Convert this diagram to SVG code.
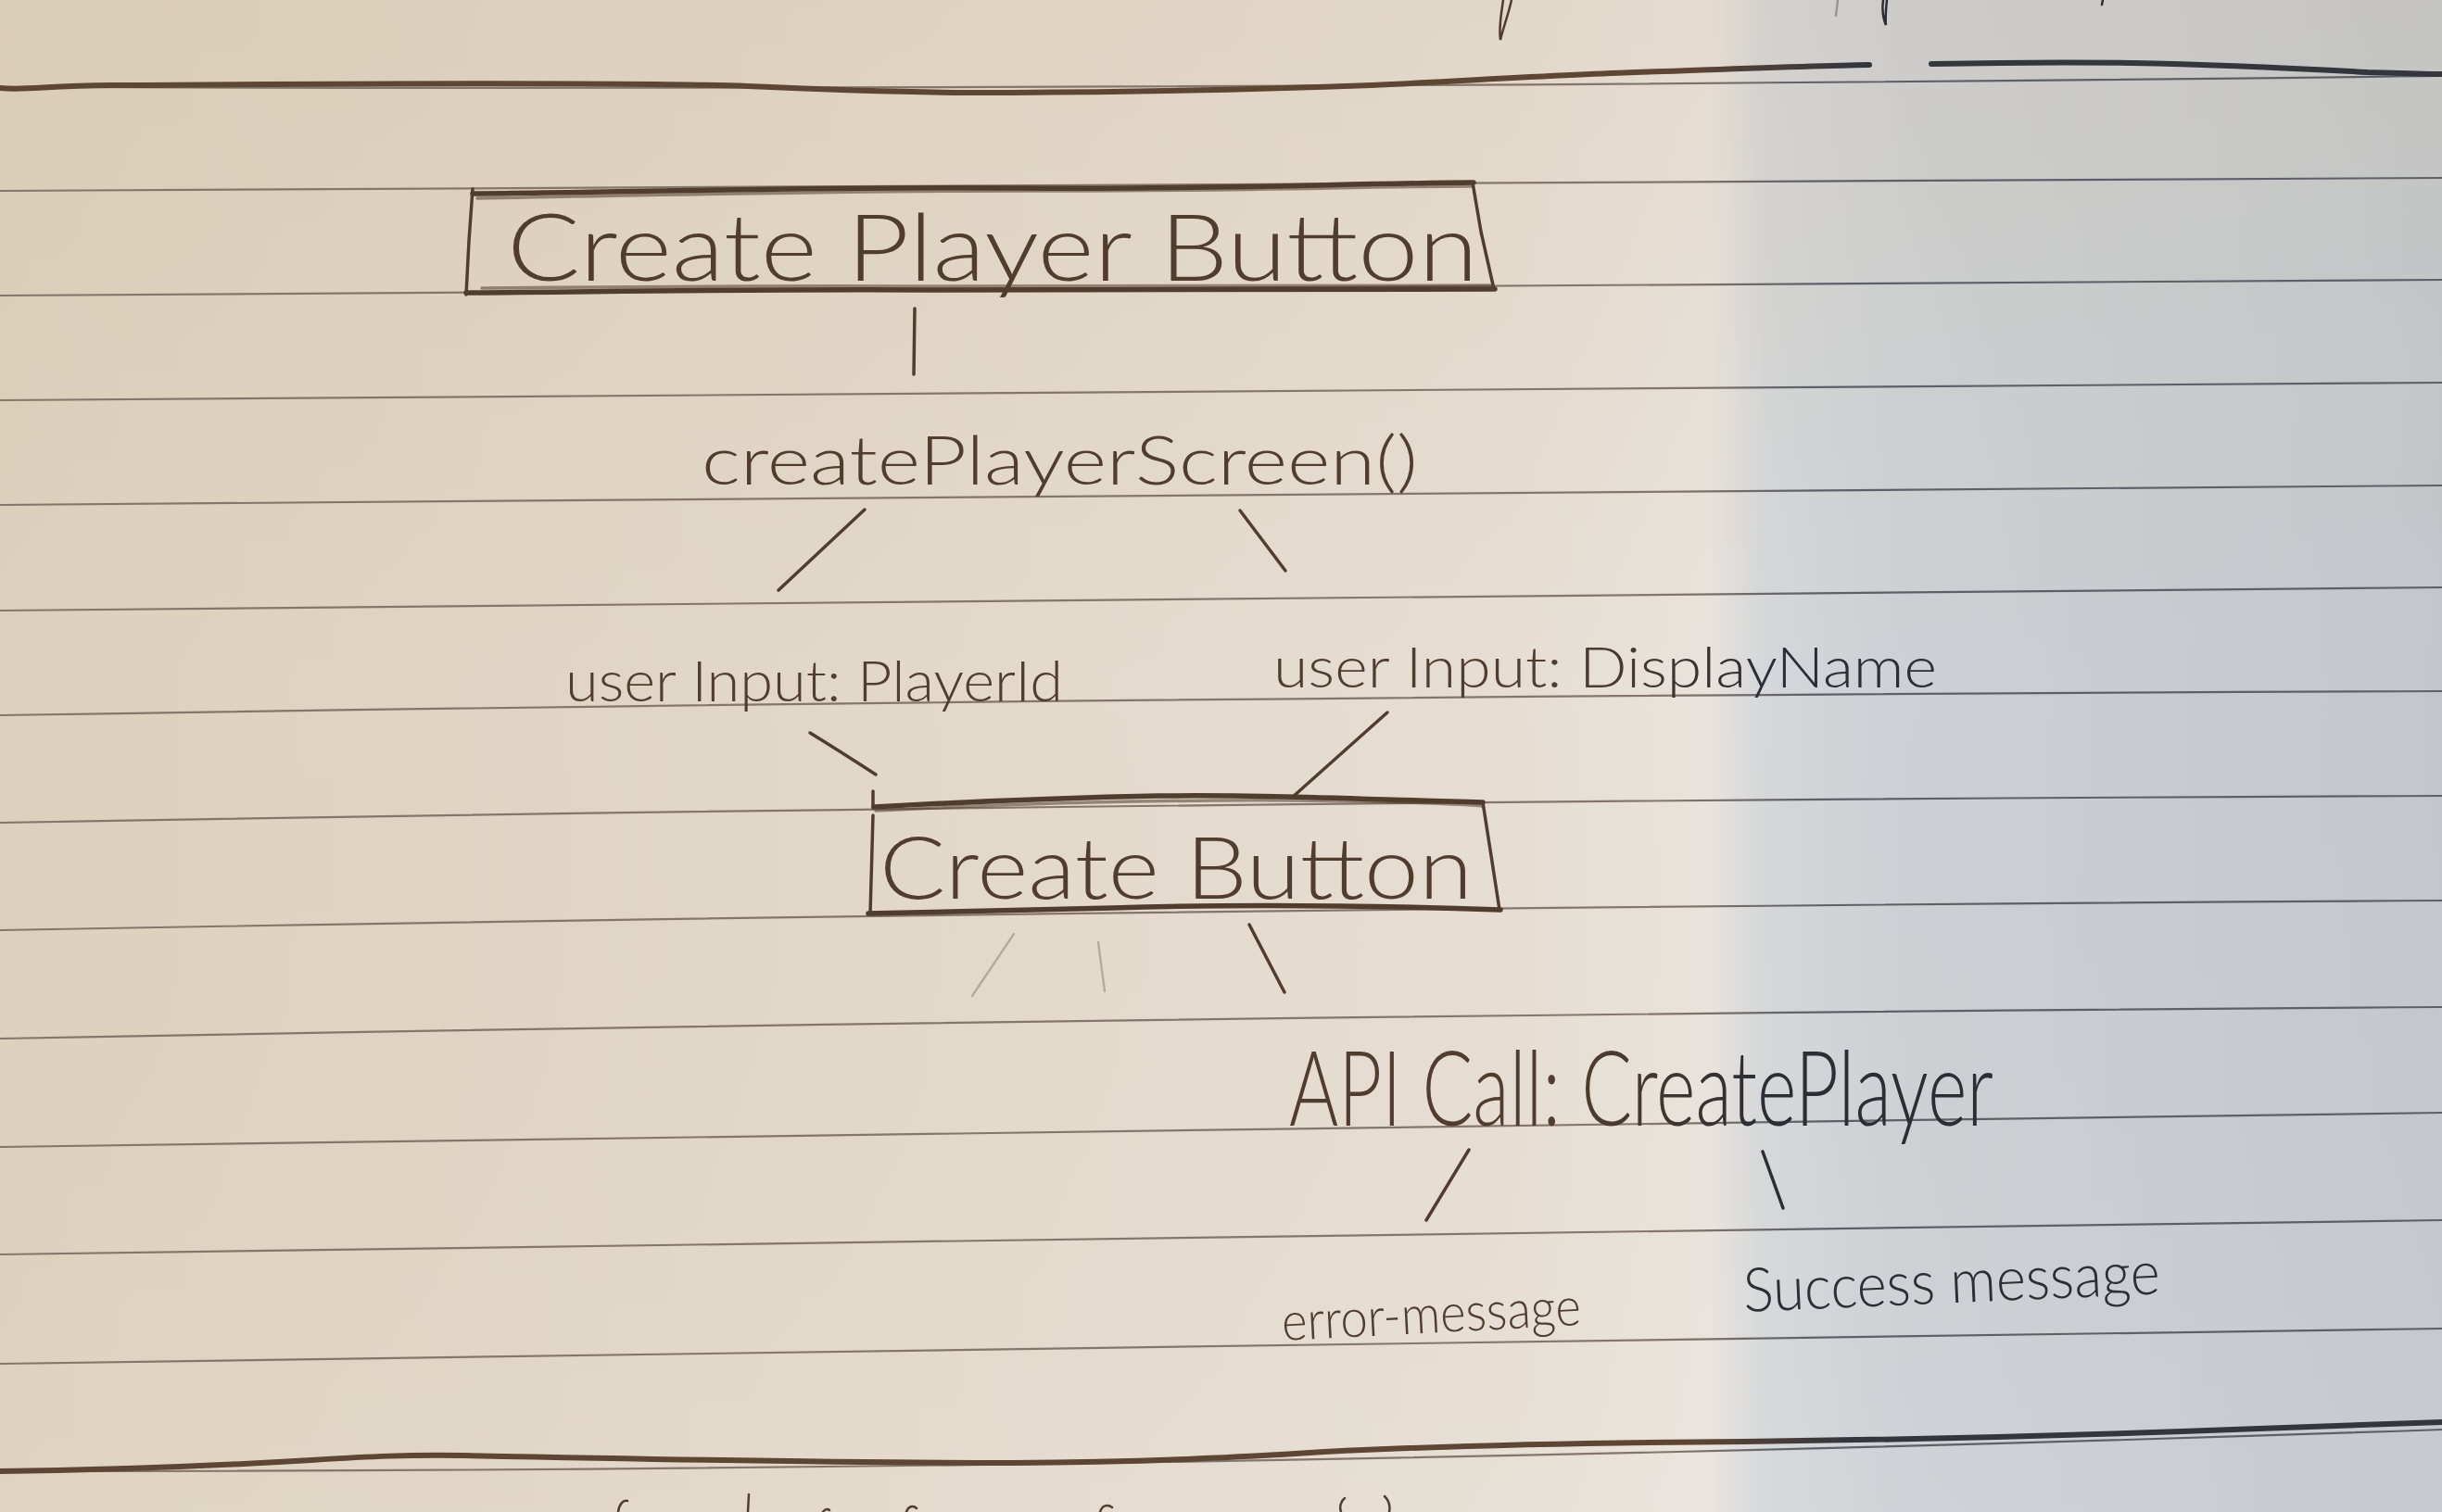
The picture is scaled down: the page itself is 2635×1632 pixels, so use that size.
<svg xmlns="http://www.w3.org/2000/svg" width="2635" height="1632" viewBox="0 0 2635 1632">
  <defs>
    <!-- paper: warm on the left, cool shadowed side on the right -->
    <linearGradient id="paper" x1="0" y1="0" x2="2635" y2="0" gradientUnits="userSpaceOnUse">
      <stop offset="0" stop-color="#ddd1bd"/>
      <stop offset="0.35" stop-color="#e2d8c9"/>
      <stop offset="0.62" stop-color="#e6ded3"/>
      <stop offset="0.70" stop-color="#e9e3dd"/>
      <stop offset="0.722" stop-color="#d5d7da"/>
      <stop offset="0.78" stop-color="#cdd0d4"/>
      <stop offset="1" stop-color="#c3c7cc"/>
    </linearGradient>
    <linearGradient id="paperTone" x1="0" y1="0" x2="0" y2="1632" gradientUnits="userSpaceOnUse">
      <stop offset="0" stop-color="#cdb995" stop-opacity="0.18"/>
      <stop offset="0.45" stop-color="#cdb995" stop-opacity="0"/>
      <stop offset="1" stop-color="#ffffff" stop-opacity="0.06"/>
    </linearGradient>
    <!-- pen ink: brown in warm light, grey-black in the shadow -->
    <linearGradient id="ink" x1="1700" y1="0" x2="1900" y2="0" gradientUnits="userSpaceOnUse">
      <stop offset="0" stop-color="#513d2e"/>
      <stop offset="1" stop-color="#2c2e35"/>
    </linearGradient>
    <linearGradient id="rule" x1="1800" y1="0" x2="1960" y2="0" gradientUnits="userSpaceOnUse">
      <stop offset="0" stop-color="#84766a"/>
      <stop offset="1" stop-color="#5c6069"/>
    </linearGradient>
    <linearGradient id="penLine" x1="1820" y1="0" x2="2000" y2="0" gradientUnits="userSpaceOnUse">
      <stop offset="0" stop-color="#5e4634"/>
      <stop offset="1" stop-color="#34363e"/>
    </linearGradient>
    <style>
      .rule { fill: none; stroke: url(#rule); stroke-width: 2.2; }
      .pen { fill: none; stroke: url(#penLine); stroke-width: 6; stroke-linecap: round; stroke-linejoin: round; }
      .mark { fill: none; stroke: url(#ink); stroke-width: 2.5; stroke-linecap: round; }
      .box { fill: none; stroke: url(#ink); stroke-linecap: round; stroke-linejoin: round; }
      .box-heavy { stroke-width: 5.5; }
      .box-side { stroke-width: 3.5; }
      .box-pass { stroke-width: 3.5; opacity: 0.55; }
      .hand { font-family: Lato, "Open Sans", "Liberation Sans", sans-serif; font-weight: 300; fill: url(#ink); }
      .link { fill: none; stroke: url(#ink); stroke-width: 3.5; stroke-linecap: round; }
      .faint { opacity: 0.3; stroke-width: 2.5; }
    </style>
  </defs>

  <!-- paper -->
  <rect x="0" y="0" width="2635" height="1632" fill="url(#paper)"/>
  <rect x="0" y="0" width="2635" height="1632" fill="url(#paperTone)"/>

  <!-- printed ruling -->
  <g id="page-rules">
    <path class="rule" d="M0,94 Q1317,98 2635,82"/>
    <path class="rule" d="M0,206 Q1317,201 2635,192"/>
    <path class="rule" d="M0,319 Q1317,311.5 2635,302"/>
    <path class="rule" d="M0,432 Q1317,425.5 2635,413"/>
    <path class="rule" d="M0,545 Q1317,531.5 2635,524"/>
    <path class="rule" d="M0,659 Q1317,641.5 2635,634"/>
    <path class="rule" d="M0,772 Q1317,751 2635,746"/>
    <path class="rule" d="M0,888 Q1317,864.5 2635,859"/>
    <path class="rule" d="M0,1004 Q1317,980 2635,972"/>
    <path class="rule" d="M0,1121 Q1317,1096 2635,1087"/>
    <path class="rule" d="M0,1238 Q1317,1220.5 2635,1201"/>
    <path class="rule" d="M0,1354 Q1317,1338.5 2635,1317"/>
    <path class="rule" d="M0,1472 Q1317,1457 2635,1434"/>
    <path class="rule" d="M0,1588 Q1317,1588.5 2635,1543"/>
  </g>

  <!-- hand-drawn separators and stray strokes from neighbouring notes -->
  <g id="page-marks">
    <path class="pen" d="M0,95 C30,98 50,92 120,92 C400,90 700,89 807,93 C900,97 1000,101 1092,100 C1250,99 1400,95 1480,92 C1600,86 1700,80 1765,78 C1880,74 1960,71 2017,70"/>
    <path class="pen" d="M2084,69 C2180,67 2240,67 2300,68 C2400,70 2480,74 2555,78 C2590,79 2615,80 2635,80"/>
    <path class="pen" d="M0,1588 C100,1587 200,1584 336,1576 C400,1572 440,1570 500,1571 C700,1575 900,1579 1092,1579 C1250,1578 1350,1572 1429,1567 C1550,1561 1700,1557 1882,1556 C2050,1554 2200,1551 2437,1542 C2540,1538 2600,1536 2635,1535"/>
    <path class="mark" d="M1631,0 C1628,14 1622,30 1619,43 C1617,30 1620,14 1622,0"/>
    <path class="mark" d="M2036,0 C2035,10 2034,20 2035,27 C2031,18 2031,8 2032,0"/>
    <path class="mark" d="M1983,0 L1981,17" opacity="0.35"/>
    <path class="mark" d="M2269,0 L2268,5"/>
    <path class="mark" d="M667,1632 C668,1624 672,1619 677,1620"/>
    <path class="mark" d="M807,1632 L808,1613"/>
    <path class="mark" d="M888,1632 C890,1629 893,1628 895,1630"/>
    <path class="mark" d="M978,1632 C980,1626 985,1624 989,1628"/>
    <path class="mark" d="M1187,1632 C1189,1625 1195,1623 1200,1627"/>
    <path class="mark" d="M1447,1632 C1445,1626 1447,1620 1451,1617"/>
    <path class="mark" d="M1494,1615 C1499,1620 1500,1627 1499,1632"/>
  </g>

  <g id="create-player-button">
    <path class="box box-heavy" d="M510,209 C700,207 900,201 1100,203 C1300,205 1450,198 1590,197"/>
    <path class="box box-pass" d="M515,214 C750,210 950,205 1150,206 C1350,206 1480,201 1588,201"/>
    <path class="box box-side" d="M1589,197 L1598,250 L1612,312"/>
    <path class="box box-heavy" d="M1613,312 C1400,311 1200,314 1000,313 C800,312 650,315 503,316"/>
    <path class="box box-pass" d="M1608,308 C1400,307 1200,310 1000,309 C800,308 650,310 520,311"/>
    <path class="box box-side" d="M510,204 L506,260 L503,318"/>
    <text class="hand" x="547" y="303" font-size="100" textLength="1048" lengthAdjust="spacingAndGlyphs">Create Player Button</text>
  </g>

  <g id="create-player-screen">
    <text class="hand" x="757" y="523" font-size="72" textLength="773" lengthAdjust="spacingAndGlyphs">createPlayerScreen()</text>
  </g>

  <g id="input-player-id">
    <text class="hand" x="610" y="757" font-size="62" textLength="537" lengthAdjust="spacingAndGlyphs">user Input: PlayerId</text>
  </g>

  <g id="input-display-name">
    <text class="hand" x="1374" y="742" font-size="62" textLength="716" lengthAdjust="spacingAndGlyphs">user Input: DisplayName</text>
  </g>

  <g id="create-button">
    <path class="box box-side" d="M942,854 L942,872"/>
    <path class="box box-heavy" d="M943,871 C1050,865 1150,861 1250,859 C1380,858 1450,862 1600,866"/>
    <path class="box box-pass" d="M945,875 C1100,867 1250,863 1400,864 C1500,865 1560,867 1600,870"/>
    <path class="box box-side" d="M1600,866 L1610,930 L1618,982"/>
    <path class="box box-heavy" d="M1619,982 C1500,978 1350,975 1200,980 C1100,982 1000,984 937,986"/>
    <path class="box box-side" d="M942,880 L939,986"/>
    <text class="hand" x="949" y="970" font-size="92" textLength="640" lengthAdjust="spacingAndGlyphs">Create Button</text>
  </g>

  <g id="api-call-create-player">
    <text class="hand" x="1391" y="1215" font-size="112" textLength="760" lengthAdjust="spacingAndGlyphs">API Call: CreatePlayer</text>
  </g>

  <g id="error-message">
    <text class="hand" x="1384" y="1447" font-size="58" textLength="323" lengthAdjust="spacingAndGlyphs" transform="rotate(-3 1384 1447)">error-message</text>
  </g>

  <g id="success-message">
    <text class="hand" x="1882" y="1416" font-size="66" textLength="450" lengthAdjust="spacingAndGlyphs" transform="rotate(-2.5 1882 1416)">Success message</text>
  </g>

  <g id="connectors">
    <path class="link" d="M987,333 L986,404"/>
    <path class="link" d="M933,550 L840,637"/>
    <path class="link" d="M1338,551 L1387,616"/>
    <path class="link" d="M874,791 Q905,810 945,836"/>
    <path class="link" d="M1497,769 L1395,860"/>
    <path class="link faint" d="M1094,1008 L1049,1075"/>
    <path class="link faint" d="M1185,1017 L1192,1070"/>
    <path class="link" d="M1348,998 L1386,1071"/>
    <path class="link" d="M1585,1241 L1539,1317"/>
    <path class="link" d="M1902,1243 L1924,1304"/>
  </g>
</svg>
